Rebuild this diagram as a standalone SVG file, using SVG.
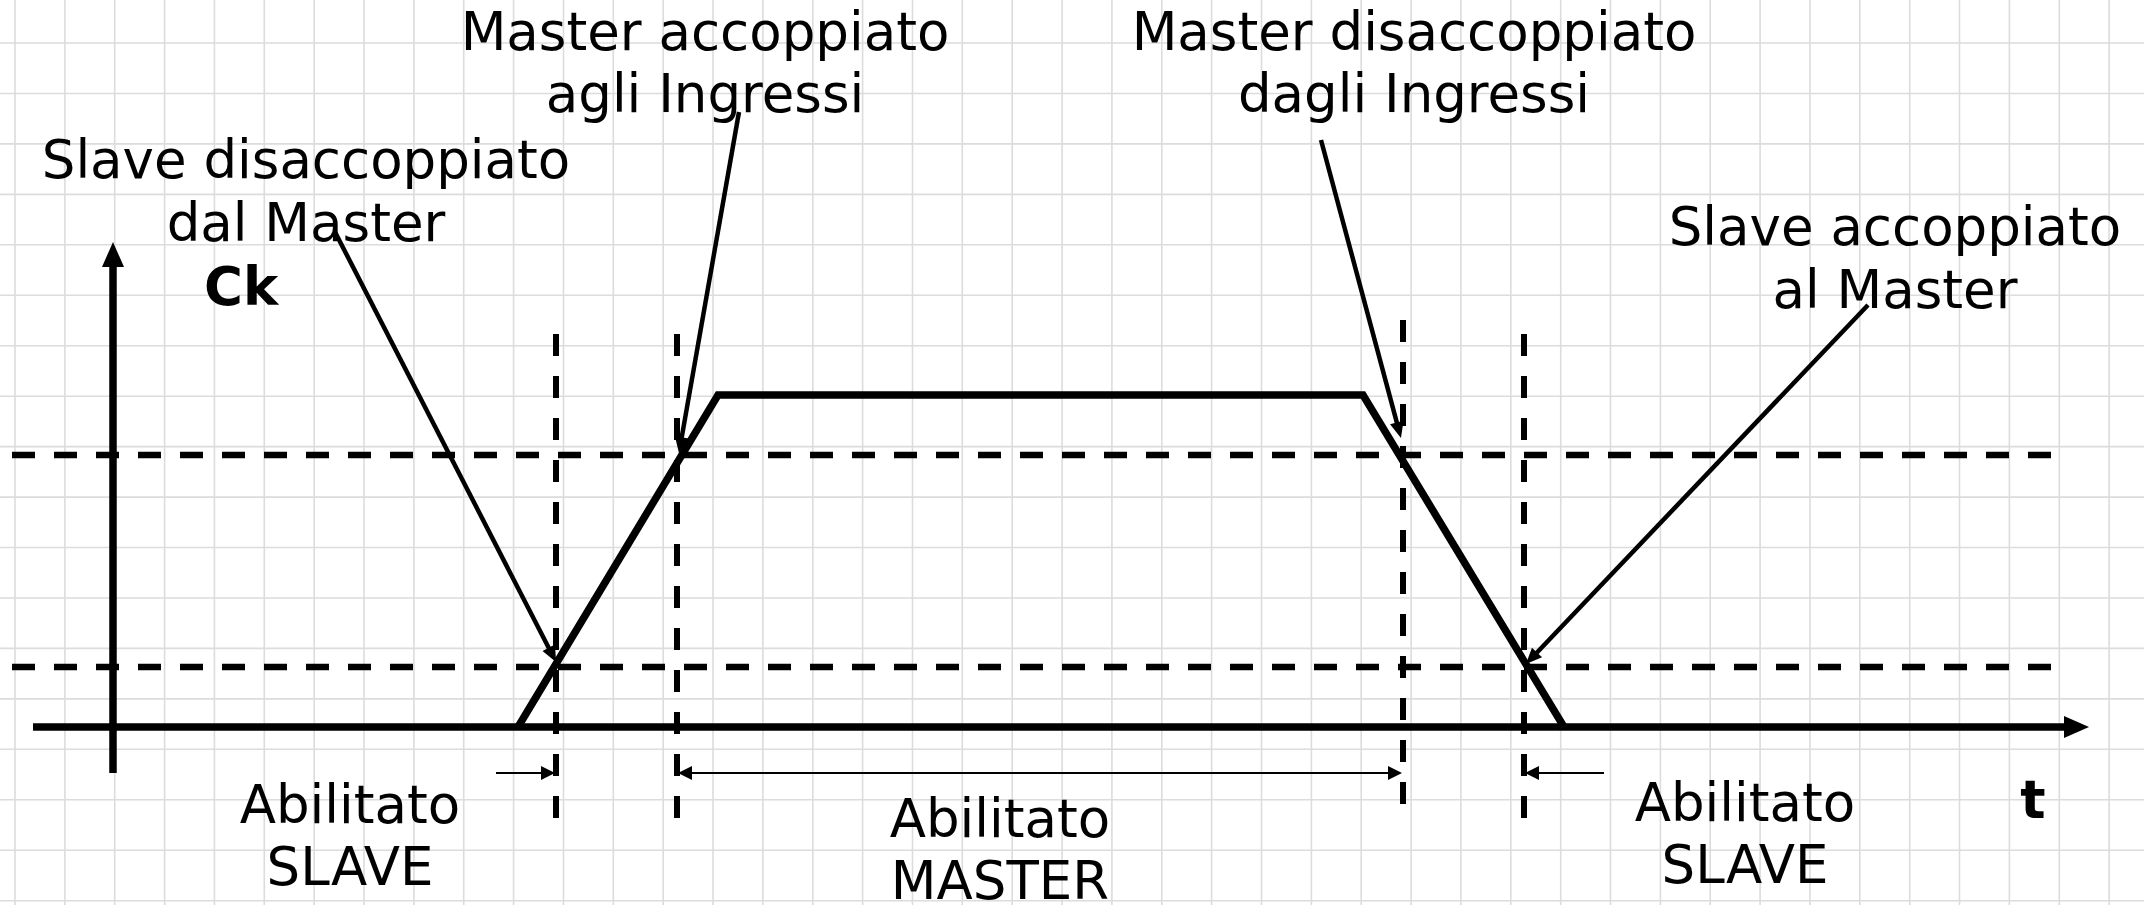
<svg xmlns="http://www.w3.org/2000/svg" width="2144" height="905" viewBox="0 0 2144 905">
<style>
.grid{stroke:#dcdcdc;stroke-width:1.6;fill:none}
.thick{stroke:#000;stroke-width:7.5;fill:none;stroke-linejoin:miter}
.dash{stroke:#000;stroke-width:6.5;fill:none;stroke-dasharray:23 19}
.vdash{stroke:#000;stroke-width:6;fill:none;stroke-dasharray:22 20}
.ann{stroke:#000;stroke-width:4.5;fill:none}
.dim{stroke:#000;stroke-width:2;fill:none}
text{font-family:"DejaVu Sans","Liberation Sans",sans-serif;font-size:53px;fill:#000}
.c{text-anchor:middle}
.b{font-weight:bold}
</style>
<defs>
<marker id="axisArrow" markerUnits="userSpaceOnUse" markerWidth="25" markerHeight="22" refX="0" refY="11" orient="auto" overflow="visible">
<path d="M0,0 L25,11 L0,22 Z" fill="#000"/>
</marker>
<marker id="annArrow" markerUnits="userSpaceOnUse" markerWidth="16" markerHeight="14" refX="10" refY="7" orient="auto" overflow="visible">
<path d="M0,0 L16,7 L0,14 Z" fill="#000"/>
</marker>
<marker id="dimArrow" markerUnits="userSpaceOnUse" markerWidth="14" markerHeight="14" refX="11" refY="7" orient="auto-start-reverse" overflow="visible">
<path d="M0,0 L14,7 L0,14 Z" fill="#000"/>
</marker>
</defs>
<rect width="2144" height="905" fill="#fff"/>
<g id="grid" class="grid">
<path d="M15,0V905M64.9,0V905M114.7,0V905M164.6,0V905M214.4,0V905M264.3,0V905M314.2,0V905M364,0V905M413.9,0V905M463.7,0V905M513.6,0V905M563.5,0V905M613.3,0V905M663.2,0V905M713,0V905M762.9,0V905M812.8,0V905M862.6,0V905M912.5,0V905M962.3,0V905M1012.2,0V905M1062.1,0V905M1111.9,0V905M1161.8,0V905M1211.6,0V905M1261.5,0V905M1311.4,0V905M1361.2,0V905M1411.1,0V905M1460.9,0V905M1510.8,0V905M1560.7,0V905M1610.5,0V905M1660.4,0V905M1710.2,0V905M1760.1,0V905M1810,0V905M1859.8,0V905M1909.7,0V905M1959.5,0V905M2009.4,0V905M2059.3,0V905M2109.1,0V905"/>
<path d="M0,43H2144M0,93.5H2144M0,143.9H2144M0,194.4H2144M0,244.8H2144M0,295.3H2144M0,345.7H2144M0,396.2H2144M0,446.6H2144M0,497.1H2144M0,547.5H2144M0,598H2144M0,648.4H2144M0,698.9H2144M0,749.3H2144M0,799.8H2144M0,850.2H2144M0,900.7H2144"/>
</g>
<g id="thresholds">
<line class="dash" x1="12" y1="455" x2="2067" y2="455"/>
<line class="dash" x1="12" y1="667" x2="2067" y2="667"/>
<line class="vdash" x1="556" y1="334" x2="556" y2="818"/>
<line class="vdash" x1="677" y1="334" x2="677" y2="818"/>
<line class="vdash" x1="1403" y1="320" x2="1403" y2="804"/>
<line class="vdash" x1="1524" y1="334" x2="1524" y2="818"/>
</g>
<g id="axes">
<line class="thick" x1="33" y1="727" x2="2064" y2="727" marker-end="url(#axisArrow)"/>
<line class="thick" x1="113" y1="773" x2="113" y2="267" marker-end="url(#axisArrow)"/>
</g>
<g id="waveform">
<polyline class="thick" points="518,727 718,395 1363,395 1564,727"/>
</g>
<g id="connectors">
<line class="ann" x1="335" y1="232" x2="553.3" y2="656.7" marker-end="url(#annArrow)"/>
<line class="ann" x1="739" y1="112" x2="680" y2="447.1" marker-end="url(#annArrow)"/>
<line class="ann" x1="1321" y1="140" x2="1399.4" y2="432.2" marker-end="url(#annArrow)"/>
<line class="ann" x1="1868" y1="305" x2="1530.1" y2="659.7" marker-end="url(#annArrow)"/>
<line class="dim" x1="496" y1="773" x2="552" y2="773" marker-end="url(#dimArrow)"/>
<line class="dim" x1="681" y1="773" x2="1399" y2="773" marker-start="url(#dimArrow)" marker-end="url(#dimArrow)"/>
<line class="dim" x1="1604" y1="773" x2="1528" y2="773" marker-end="url(#dimArrow)"/>
</g>
<g id="label-slave-disaccoppiato">
<text class="c"><tspan x="306" y="178">Slave disaccoppiato</tspan><tspan x="306" y="241">dal Master</tspan></text>
</g>
<g id="label-master-accoppiato">
<text class="c"><tspan x="705" y="50">Master accoppiato</tspan><tspan x="705" y="112">agli Ingressi</tspan></text>
</g>
<g id="label-master-disaccoppiato">
<text class="c"><tspan x="1414" y="50">Master disaccoppiato</tspan><tspan x="1414" y="112">dagli Ingressi</tspan></text>
</g>
<g id="label-slave-accoppiato">
<text class="c"><tspan x="1895" y="245">Slave accoppiato</tspan><tspan x="1895" y="308">al Master</tspan></text>
</g>
<g id="label-ck"><text class="b" x="204" y="305">Ck</text></g>
<g id="label-t"><text class="b c" x="2033" y="818">t</text></g>
<g id="label-abilitato-slave-left">
<text class="c"><tspan x="350" y="823">Abilitato</tspan><tspan x="350" y="885">SLAVE</tspan></text>
</g>
<g id="label-abilitato-master">
<text class="c"><tspan x="1000" y="837">Abilitato</tspan><tspan x="1000" y="899">MASTER</tspan></text>
</g>
<g id="label-abilitato-slave-right">
<text class="c"><tspan x="1745" y="821">Abilitato</tspan><tspan x="1745" y="883">SLAVE</tspan></text>
</g>
</svg>
